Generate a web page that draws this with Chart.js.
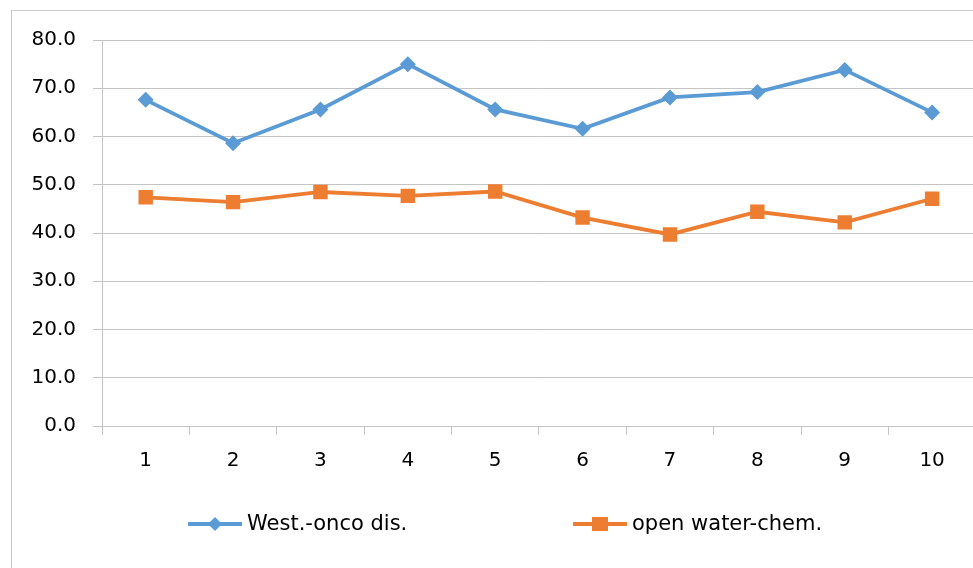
<!DOCTYPE html>
<html>
<head>
<meta charset="utf-8">
<script src="https://cdn.jsdelivr.net/npm/chart.js@4/dist/chart.umd.min.js"></script>
<style>
  body { margin: 0; overflow: hidden; background: #fff; }
  #frame { position: absolute; left: 11px; top: 10px; width: 1000px; height: 600px; border: 1px solid #c8c8c8; }
  #chart { position: absolute; left: 0; top: 0; }
</style>
</head>
<body>
<div id="frame"></div>
<canvas id="chart" width="986" height="568"></canvas>
<script>
// Dados
const categories = ['1', '2', '3', '4', '5', '6', '7', '8', '9', '10'];
const westOnco = [67.6, 58.6, 65.6, 75.0, 65.6, 61.6, 68.1, 69.2, 73.8, 65.0];
const openWater = [47.4, 46.4, 48.5, 47.7, 48.6, 43.2, 39.7, 44.4, 42.2, 47.1];
const seriesNames = ['West.-onco dis.', 'open water-chem.'];

const FONT = 'DejaVu Sans';
const GRID = '#c4c4c4';

// Legenda desenhada à mão: linha com marcador no meio, como no Excel
const lineLegend = {
    id: 'lineLegend',
    afterDraw(chart) {
        const ctx = chart.ctx;
        const y = 524;
        const items = [{ x: 188 }, { x: 573 }];
        chart.data.datasets.forEach((ds, i) => {
            const x0 = items[i].x;
            ctx.save();
            ctx.strokeStyle = ds.borderColor;
            ctx.lineWidth = 4;
            ctx.beginPath();
            ctx.moveTo(x0, y);
            ctx.lineTo(x0 + 54, y);
            ctx.stroke();
            ctx.fillStyle = ds.borderColor;
            const cx = x0 + 27;
            if (ds.pointStyle === 'rectRot') {
                ctx.beginPath();
                ctx.moveTo(cx, y - 7);
                ctx.lineTo(cx + 7, y);
                ctx.lineTo(cx, y + 7);
                ctx.lineTo(cx - 7, y);
                ctx.closePath();
                ctx.fill();
            } else {
                ctx.fillRect(cx - 8, y - 7, 16, 14);
            }
            ctx.fillStyle = '#000';
            ctx.font = '21px "' + FONT + '"';
            ctx.textBaseline = 'middle';
            ctx.fillText(ds.label, x0 + 59, y + 1);
            ctx.restore();
        });
    }
};

new Chart(document.getElementById('chart'), {
    type: 'line',
    data: {
        labels: categories,
        datasets: [{
            label: seriesNames[0],
            data: westOnco,
            borderColor: '#5b9bd5',
            backgroundColor: '#5b9bd5',
            borderWidth: 3.8,
            pointStyle: 'rectRot',
            pointRadius: 8,
            pointBorderWidth: 0,
            tension: 0
        }, {
            label: seriesNames[1],
            data: openWater,
            borderColor: '#ed7d31',
            backgroundColor: '#ed7d31',
            borderWidth: 3.8,
            pointStyle: 'rect',
            pointRadius: 10.2,
            pointBorderWidth: 0,
            tension: 0
        }]
    },
    options: {
        responsive: false,
        animation: false,
        layout: { padding: { left: 0, right: 0, top: 40, bottom: 92 } },
        plugins: {
            legend: { display: false },
            tooltip: { enabled: false }
        },
        scales: {
            x: {
                offset: true,
                grid: { offset: true, drawOnChartArea: false, tickLength: 9, color: GRID },
                border: { color: GRID, width: 1 },
                ticks: { color: '#000', padding: 14, font: { family: FONT, size: 20 } },
                afterFit(scale) { scale.height = 50; }
            },
            y: {
                min: 0,
                max: 80,
                grid: { tickLength: 9, color: GRID },
                border: { color: GRID, width: 1 },
                ticks: {
                    stepSize: 10,
                    color: '#000',
                    padding: 17,
                    font: { family: FONT, size: 20 },
                    callback: v => v.toFixed(1)
                },
                afterFit(scale) { scale.width = 102; }
            }
        }
    },
    plugins: [lineLegend]
});
</script>
</body>
</html>
